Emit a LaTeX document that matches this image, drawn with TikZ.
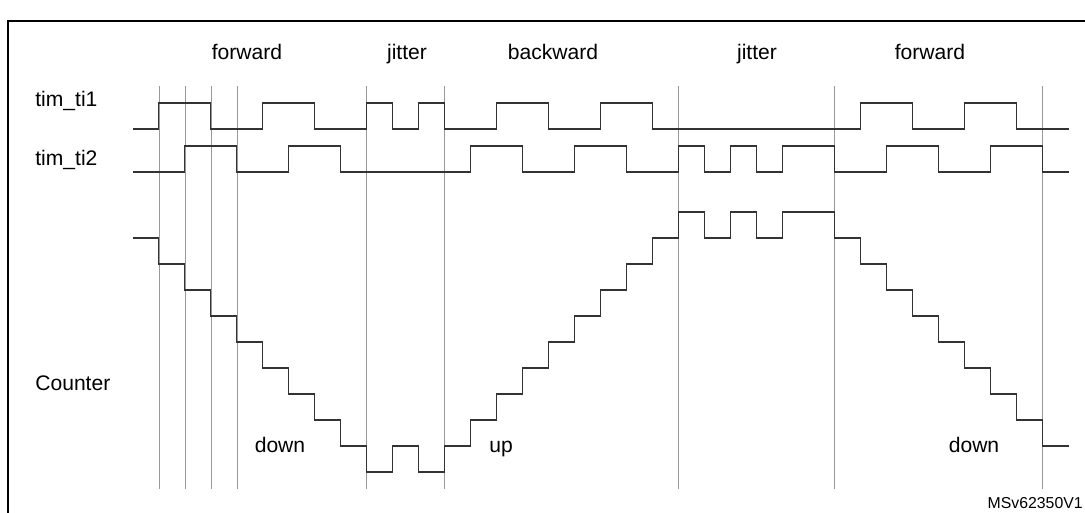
\documentclass[tikz,border=0pt]{standalone}
\usepackage{fontspec}
\setmainfont{Liberation Sans}
\tikzset{wave/.style={line width=0.6pt,black!80}}
\tikzset{tick/.style={line width=0.5pt,black!40}}
\tikzset{lbl/.style={inner sep=0pt,anchor=base,font=\fontsize{12}{14}\selectfont}}
\begin{document}
\begin{tikzpicture}[x=0.02cm,y=-0.02cm]
  \useasboundingbox (0,0) rectangle (1085,513);
  \draw[line width=1.2pt] (8,520) -- (8,21) -- (1095,21);
  %% Phases
  \node[lbl] (F1) at (247,60) {forward};
  \node[lbl] (J1) at (407,60) {jitter};
  \node[lbl] (B1) at (553,60) {backward};
  \node[lbl] (J2) at (757,60) {jitter};
  \node[lbl] (F2) at (930,60) {forward};
  \node[lbl,anchor=base west] (T1) at (35,107) {tim\_ti1};
  \node[lbl,anchor=base west] (T2) at (35,166) {tim\_ti2};
  \node[lbl,anchor=base west] (C) at (35,390) {Counter};
  \node[lbl] (D1) at (280,452) {down};
  \node[lbl] (U1) at (501,452) {up};
  \node[lbl] (D2) at (974,452) {down};
  \node[inner sep=0pt,anchor=base east,font=\fontsize{9}{10}\selectfont] (ID) at (1083,508) {MSv62350V1};
  \begin{scope}[x=0.52cm,xshift=3.18cm]
    \foreach \t in {0,1,2,3,8,11,20,26,34}
      \draw[tick] (\t,86) -- (\t,489);
    %% tim_ti1
    \draw[wave] (-1,129) -| (0,103) -| (2,129) -| (4,103) -| (6,129) -| (8,103) -| (9,129) -| (10,103) -| (11,129) -| (13,103) -| (15,129) -| (17,103) -| (19,129) -| (27,103) -| (29,129) -| (31,103) -| (33,129) -- (35,129);
    %% tim_ti2
    \draw[wave] (-1,172) -| (1,146) -| (3,172) -| (5,146) -| (7,172) -| (12,146) -| (14,172) -| (16,146) -| (18,172) -| (20,146) -| (21,172) -| (22,146) -| (23,172) -| (24,146) -| (26,172) -| (28,146) -| (30,172) -| (32,146) -| (34,172) -- (35,172);
    %% Counter
    \draw[wave] (-1,238) -| (0,264) -| (1,290) -| (2,316) -| (3,342) -| (4,368) -| (5,394) -| (6,420) -| (7,446) -| (8,472) -| (9,446) -| (10,472) -| (11,446) -| (12,420) -| (13,394) -| (14,368) -| (15,342) -| (16,316) -| (17,290) -| (18,264) -| (19,238) -| (20,212) -| (21,238) -| (22,212) -| (23,238) -| (24,212) -| (26,238) -| (27,264) -| (28,290) -| (29,316) -| (30,342) -| (31,368) -| (32,394) -| (33,420) -| (34,446) -- (35,446);
  \end{scope}
\end{tikzpicture}
\end{document}
